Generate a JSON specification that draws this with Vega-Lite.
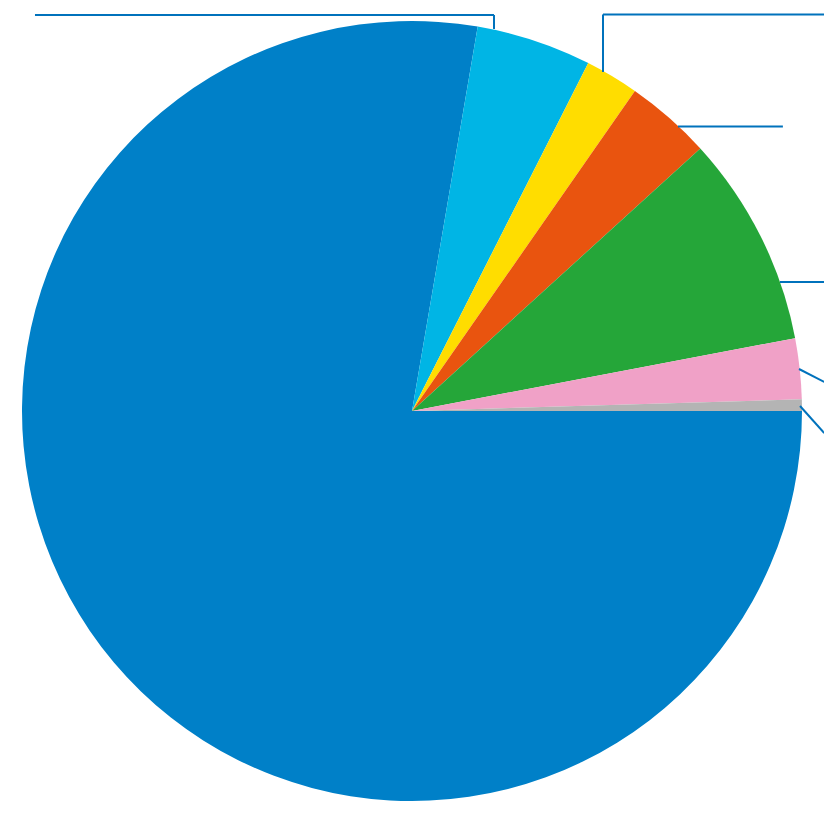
{
  "$schema": "https://vega.github.io/schema/vega-lite/v6.json",
  "width": 824,
  "height": 822,
  "autosize": "none",
  "padding": 0,
  "background": "white",
  "view": {"stroke": null},
  "datasets": {
    "shares": [
      {"segment": "S1", "rank": 1, "share": 77.71},
      {"segment": "S2", "rank": 2, "share": 4.77},
      {"segment": "S3", "rank": 3, "share": 2.22},
      {"segment": "S4", "rank": 4, "share": 3.56},
      {"segment": "S5", "rank": 5, "share": 8.77},
      {"segment": "S6", "rank": 6, "share": 2.51},
      {"segment": "S7", "rank": 7, "share": 0.48}
    ],
    "leaders": [
      {"x1": -96.67, "x2": 21.03, "y1": 101.54, "y2": 101.54},
      {"x1": 21.03, "x2": 21.03, "y1": 101.54, "y2": 97.95},
      {"x1": 48.97, "x2": 48.97, "y1": 86.92, "y2": 101.67},
      {"x1": 48.97, "x2": 105.7, "y1": 101.67, "y2": 101.67},
      {"x1": 68.2, "x2": 95.1, "y1": 72.95, "y2": 72.95},
      {"x1": 94.36, "x2": 105.7, "y1": 33.08, "y2": 33.08},
      {"x1": 99.23, "x2": 105.7, "y1": 10.77, "y2": 7.44},
      {"x1": 99.49, "x2": 105.7, "y1": 1.28, "y2": -5.64}
    ]
  },
  "layer": [
    {
      "data": {"name": "shares"},
      "mark": {"type": "arc", "outerRadius": 390},
      "encoding": {
        "theta": {
          "field": "share",
          "type": "quantitative",
          "stack": true,
          "scale": {"range": [1.5708, 7.854]}
        },
        "order": {"field": "rank", "type": "quantitative"},
        "color": {
          "field": "segment",
          "type": "nominal",
          "scale": {
            "domain": ["S1", "S2", "S3", "S4", "S5", "S6", "S7"],
            "range": ["#0080C8", "#00B5E5", "#FFDD00", "#E9540F", "#25A639", "#F0A1C7", "#B4B4B4"]
          },
          "legend": null
        }
      }
    },
    {
      "data": {"name": "leaders"},
      "mark": {"type": "rule", "stroke": "#0072BC", "strokeWidth": 2},
      "encoding": {
        "x": {"field": "x1", "type": "quantitative", "scale": {"domain": [-105.64, 105.64], "nice": false, "zero": false}, "axis": null},
        "x2": {"field": "x2"},
        "y": {"field": "y1", "type": "quantitative", "scale": {"domain": [-105.38, 105.38], "nice": false, "zero": false}, "axis": null},
        "y2": {"field": "y2"}
      }
    }
  ]
}
